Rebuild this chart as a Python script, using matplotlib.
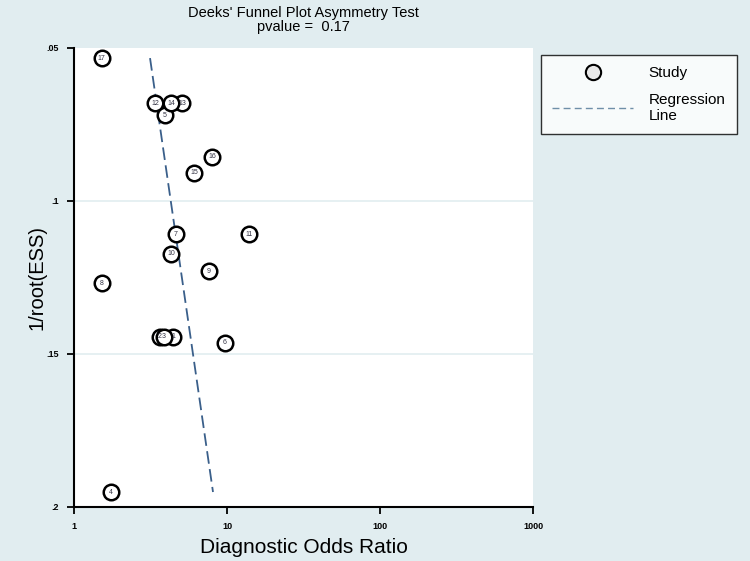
import matplotlib
matplotlib.use("Agg")
import matplotlib.pyplot as plt
from matplotlib.lines import Line2D

plt.rcParams["font.family"] = ["Liberation Sans", "DejaVu Sans"]

# Data
study_ids = ["1", "2", "3", "4", "5", "6", "7", "8", "9", "10",
             "11", "12", "13", "14", "15", "16", "17"]
dor = [4.44, 3.65, 3.87, 1.75, 3.93, 9.7, 4.64, 1.52, 7.63, 4.31,
       13.9, 3.38, 5.08, 4.31, 6.09, 7.98, 1.52]
inv_root_ess = [0.1444, 0.1444, 0.1444, 0.1951, 0.0719, 0.1464, 0.1108, 0.1268, 0.1229, 0.1173,
                0.1108, 0.0680, 0.0680, 0.0680, 0.0908, 0.0856, 0.0533]
reg_x = [3.14, 8.10]
reg_y = [0.0533, 0.1951]
x_ticks = [1, 10, 100, 1000]
x_ticklabels = ["1", "10", "100", "1000"]
y_ticks = [0.05, 0.1, 0.15, 0.2]
y_ticklabels = [".05", ".1", ".15", ".2"]
title_text = "Deeks' Funnel Plot Asymmetry Test\npvalue =  0.17"

bg = "#e1edf0"
line_col = "#3a5f8a"

fig = plt.figure(figsize=(7.5, 5.61), dpi=100, facecolor=bg)
ax = fig.add_axes([74/750, 1-507/561, (533-74)/750, (507-48)/561])
ax.set_facecolor("white")
ax.set_xscale("log")
ax.set_xlim(1, 1000)
ax.set_ylim(0.2, 0.05)

for yv in [0.1, 0.15]:
    ax.axhline(yv, color=bg, lw=1.2, zorder=0)

ax.plot(reg_x, reg_y, ls=(0, (7, 3)), color=line_col, lw=1.3, zorder=2)
ax.scatter(dor, inv_root_ess, s=125, facecolor="white", edgecolor="black",
           linewidth=1.8, zorder=3)
for sid, xv, yv in zip(study_ids, dor, inv_root_ess):
    ax.text(xv, yv, sid, ha="center", va="center", fontsize=5, color="#333344", zorder=4)

ax.set_xticks(x_ticks)
ax.set_xticklabels(x_ticklabels)
ax.minorticks_off()
ax.set_yticks(y_ticks)
ax.set_yticklabels(y_ticklabels)
ax.tick_params(direction="out", length=5, width=1.3, labelsize=6.5, pad=6)
for lbl in ax.get_xticklabels() + ax.get_yticklabels():
    lbl.set_fontweight("bold")
for s in ["top", "right"]:
    ax.spines[s].set_visible(False)
for s in ["left", "bottom"]:
    ax.spines[s].set_linewidth(1.5)

ax.set_xlabel("Diagnostic Odds Ratio", fontsize=15, labelpad=5)
ax.set_ylabel("1/root(ESS)", fontsize=14.5, labelpad=0)
fig.text(303/750, 1-6/561, title_text, ha="center", va="top", fontsize=10.5, linespacing=1.0)

handles = [Line2D([], [], marker="o", ls="none", markersize=11, markerfacecolor="#e8e8e8",
                  markeredgecolor="black", markeredgewidth=1.5),
           Line2D([], [], ls=(0, (5, 3)), color="#6f8fa8", lw=1.0)]
leg = fig.legend(handles, ["Study", "Regression\nLine"], loc="upper left",
                 bbox_to_anchor=(541/750, 1-55/561), borderaxespad=0, fontsize=11, frameon=True,
                 fancybox=False, edgecolor="black", handlelength=5.3,
                 borderpad=0.75, labelspacing=0.8, handletextpad=1.0)
leg.get_frame().set_linewidth(1.0)
leg.get_frame().set_facecolor("white")

fig.savefig("out.png", dpi=100, facecolor=bg)
